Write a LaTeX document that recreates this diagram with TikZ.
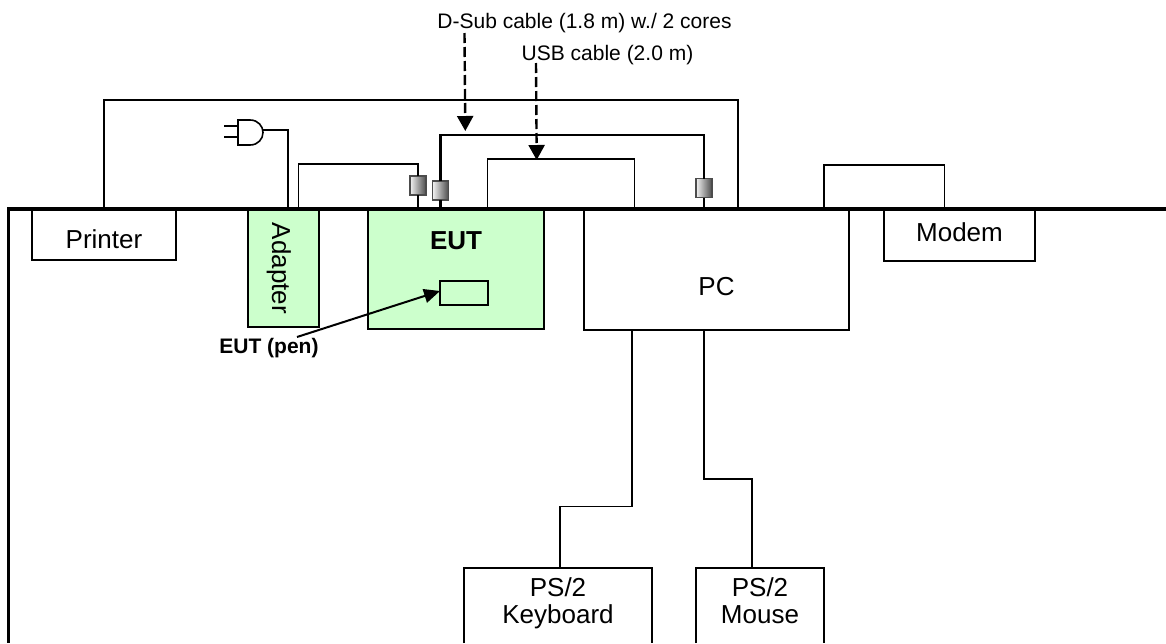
\documentclass[tikz,border=0pt]{standalone}
\usepackage{fontspec}
\setmainfont{Liberation Sans}
\usetikzlibrary{arrows.meta}
\definecolor{eutgreen}{HTML}{CCFFCC}
\tikzset{
  bigtext/.style={font=\fontsize{26}{27}\selectfont},
  smalltext/.style={font=\fontsize{21}{24}\selectfont, inner sep=0pt},
  boxnode/.style={draw=black, line width=1.6pt, inner sep=0pt, outer sep=0pt, bigtext, align=center},
  opennode/.style={inner sep=0pt, outer sep=0pt, bigtext, align=center, anchor=north west},
  cable/.style={draw=black, line width=1.6pt},
  thickcable/.style={draw=black, line width=2.2pt},
  tableline/.style={draw=black, line width=3.6pt, line join=miter},
  ferrite/.style={draw=black!70, line width=1.7pt, minimum width=16pt, minimum height=19pt, inner sep=0pt, outer sep=0pt, left color=black!5, right color=black!70},
  callout/.style={draw=black, line width=2.4pt, dash pattern=on 10pt off 4pt, -{Triangle[width=16pt,length=15pt]}},
  penarrow/.style={draw=black, line width=2pt, -{Triangle[width=14pt,length=16pt]}},
}
\begin{document}
\begin{tikzpicture}[x=1pt,y=-1pt]
\useasboundingbox (0,0) rectangle (1166,643);
% boxes
\node[boxnode, minimum width=144pt, minimum height=50pt, text height=26pt, text depth=0pt] (printer) at (104,235) {Printer};
\node[boxnode, fill=eutgreen, rotate=-90, minimum width=117pt, minimum height=71pt, text height=23pt, text depth=0pt] (adapter) at (283.5,268.5) {Adapter};
\node[boxnode, fill=eutgreen, minimum width=176pt, minimum height=119pt, text height=0pt, text depth=41pt, font=\fontsize{26}{27}\selectfont\bfseries] (eut) at (456,269.5) {EUT};
\node[boxnode, fill=eutgreen, minimum width=48pt, minimum height=24pt] (pen) at (464,293) {};
\node[boxnode, minimum width=265pt, minimum height=120pt, text height=50pt, text depth=0pt] (pc) at (716.5,270) {PC};
\node[boxnode, minimum width=151pt, minimum height=51pt, text height=11pt, text depth=0pt] (modem) at (959.5,235.5) {Modem};
\node[opennode, minimum width=188pt, minimum height=75pt] (keyboard) at (464,568) {PS/2\\Keyboard\rule[-9pt]{0pt}{1pt}};
\node[opennode, minimum width=128pt, minimum height=75pt] (mouse) at (696,568) {PS/2\\Mouse\rule[-9pt]{0pt}{1pt}};
\draw[cable] (keyboard.south west) |- (keyboard.north east) -- (keyboard.south east);
\draw[cable] (mouse.south west) |- (mouse.north east) -- (mouse.south east);
% table
\coordinate (tableright) at (1166,209);
\coordinate (tablecorner) at (8.3,209);
\coordinate (tablebottom) at (8.3,643);
% ferrites
\node[ferrite] (f1) at (418,185.5) {};
\node[ferrite] (f2) at (440.5,190.5) {};
\node[ferrite] (f3) at (704,188) {};
% points on table
\coordinate (printerport) at (104,209);
\coordinate (pcport) at (738,209);
\coordinate (adapterport) at (288,209);
\coordinate (linkadapter) at (298.5,209);
\coordinate (linkeut) at (418,209);
\coordinate (dsubeut) at (440.5,209);
\coordinate (dsubpc) at (704,209);
\coordinate (usbeut) at (487.5,209);
\coordinate (usbpc) at (634.5,209);
\coordinate (modemleft) at (824,209);
\coordinate (modemright) at (944.5,209);
\coordinate (plugtip) at (263,130);
% plug
\coordinate (pluga) at (224,126);
\coordinate (plugb) at (224,137);
\coordinate (plugbodya) at (238,126);
\coordinate (plugbodyb) at (238,137);
\draw[cable] (pluga) -- (plugbodya);
\draw[cable] (plugb) -- (plugbodyb);
\draw[cable] (238,120) -- (250,120) .. controls (258,120) and (263,126) .. (263,132.5) .. controls (263,139) and (258,145) .. (250,145) -- (238,145) -- cycle;
% cables
\draw[cable] (printerport) -- ++(0,-109) -| (pcport);
\draw[cable] (plugtip) -| (adapterport);
\draw[cable] (linkadapter) -- ++(0,-45) -| (f1.north);
\draw[cable] (f1.south) -- (linkeut);
\draw[thickcable] (f2.north) -- ++(0,-46) -| (f3.north);
\draw[thickcable] (f2.south) -- (dsubeut);
\draw[thickcable] (f3.south) -- (dsubpc);
\draw[cable] (usbeut) -- ++(0,-50) -| (usbpc);
\draw[cable] (modemleft) -- ++(0,-44) -| (modemright);
\draw[cable] (pc.south -| 632,0) -- (632,506.5) -- (560,506.5) -- (keyboard.north -| 560,0);
\draw[cable] (pc.south -| 704,0) -- (704,479) -- (752,479) -- (mouse.north -| 752,0);
% table on top
\draw[tableline] (tableright) -- (tablecorner) -- (tablebottom);
% labels
\node[smalltext, anchor=base] (dsublabel) at (584.5,28) {D-Sub cable (1.8 m) w./ 2 cores};
\node[smalltext, anchor=base] (usblabel) at (607.5,60) {USB cable (2.0 m)};
\node[smalltext, anchor=base, font=\fontsize{21}{24}\selectfont\bfseries] (penlabel) at (269,353) {EUT (pen)};
% callouts
\coordinate (dsubstart) at (464.5,33);
\coordinate (dsubtip) at (465.3,131);
\coordinate (usbstart) at (536,63);
\coordinate (usbtip) at (536.7,160);
\draw[callout] (dsubstart) -- (dsubtip);
\draw[callout] (usbstart) -- (usbtip);
\coordinate (penstart) at (297,337);
\draw[penarrow] (penstart) -- ([yshift=2pt]pen.west);
\end{tikzpicture}
\end{document}
